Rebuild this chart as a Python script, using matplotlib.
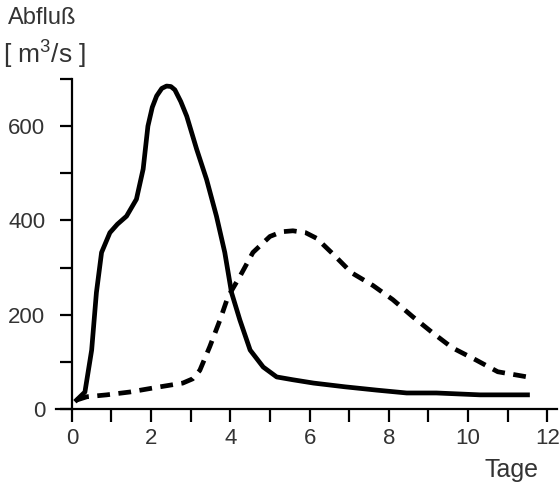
import matplotlib
matplotlib.use("Agg")
import matplotlib.pyplot as plt

plt.rcParams['font.family'] = ['Liberation Sans Narrow', 'Liberation Sans', 'DejaVu Sans']
plt.rcParams['mathtext.fontset'] = 'custom'
plt.rcParams['mathtext.rm'] = 'Liberation Sans'

# solid hydrograph (days, m3/s)
solid_t = [0.12, 0.33, 0.5, 0.62, 0.75, 0.96, 1.15, 1.38, 1.63, 1.8, 1.92, 2.03,
           2.14, 2.27, 2.39, 2.5, 2.6, 2.75, 2.9, 3.15, 3.4, 3.65, 3.86, 4.03,
           4.24, 4.5, 4.83, 5.17, 5.58, 6.1, 6.9, 7.7, 8.45, 9.2, 10.3, 11.5]
solid_q = [19, 36, 125, 247, 332, 374, 392, 409, 445, 509, 600, 640,
           664, 680, 685, 684, 677, 652, 621, 551, 487, 409, 332, 247,
           189, 125, 89, 68, 62, 55, 47, 40, 34, 34, 30, 30]

# dashed hydrograph
dash_t = [0.12, 0.38, 0.88, 1.46, 2.22, 2.8, 3.05, 3.23, 3.48, 3.74, 3.94, 4.24,
          4.57, 5.0, 5.3, 5.58, 5.9, 6.18, 6.6, 7.06, 7.6, 8.1, 8.6, 9.1, 9.6,
          10.2, 10.75, 11.5]
dash_q = [19, 26, 30, 36, 47, 55, 64, 82, 132, 189, 238, 281,
          332, 366, 376, 378, 374, 362, 328, 289, 262, 232, 196, 162, 130,
          104, 79, 68]

fig = plt.figure(figsize=(5.6, 4.9), dpi=100)
ax = fig.add_axes([0.1, 0.1653, 0.895, 0.6735])

ax.plot(solid_t, solid_q, color='black', lw=3.4, solid_joinstyle='round')
ax.plot(dash_t, dash_q, color='black', lw=3.4, dashes=(2.7, 1.8))

ax.set_xlim(-0.4, 12.25)
ax.set_ylim(0, 700)

for s in ['top', 'right']:
    ax.spines[s].set_visible(False)
ax.spines['left'].set_position(('data', 0))
ax.spines['left'].set_linewidth(1.6)
ax.spines['bottom'].set_linewidth(1.6)

ax.set_xticks(range(0, 13))
ax.set_xticklabels([str(i) if i % 2 == 0 else '' for i in range(13)])
ax.set_yticks(range(0, 701, 100))
ax.set_yticklabels(['0', '', '200', '', '400', '', '600', ''])
ax.tick_params(axis='both', direction='out', length=9, width=1.6,
               labelsize=16, colors='black', labelcolor='#333333')
ax.tick_params(axis='y', pad=10)
ax.tick_params(axis='x', pad=5)

fig.text(0.015, 0.985, 'Abfluß', fontsize=17, color='#333333', va='top', ha='left')
fig.text(0.005, 0.89, r'[ m$^{\mathrm{3}}$/s ]', fontsize=19, color='#333333',
         va='center', ha='left')
fig.text(0.865, 0.04, 'Tage', fontsize=18, color='#333333', va='center', ha='left')

fig.savefig('out.png', dpi=100)
